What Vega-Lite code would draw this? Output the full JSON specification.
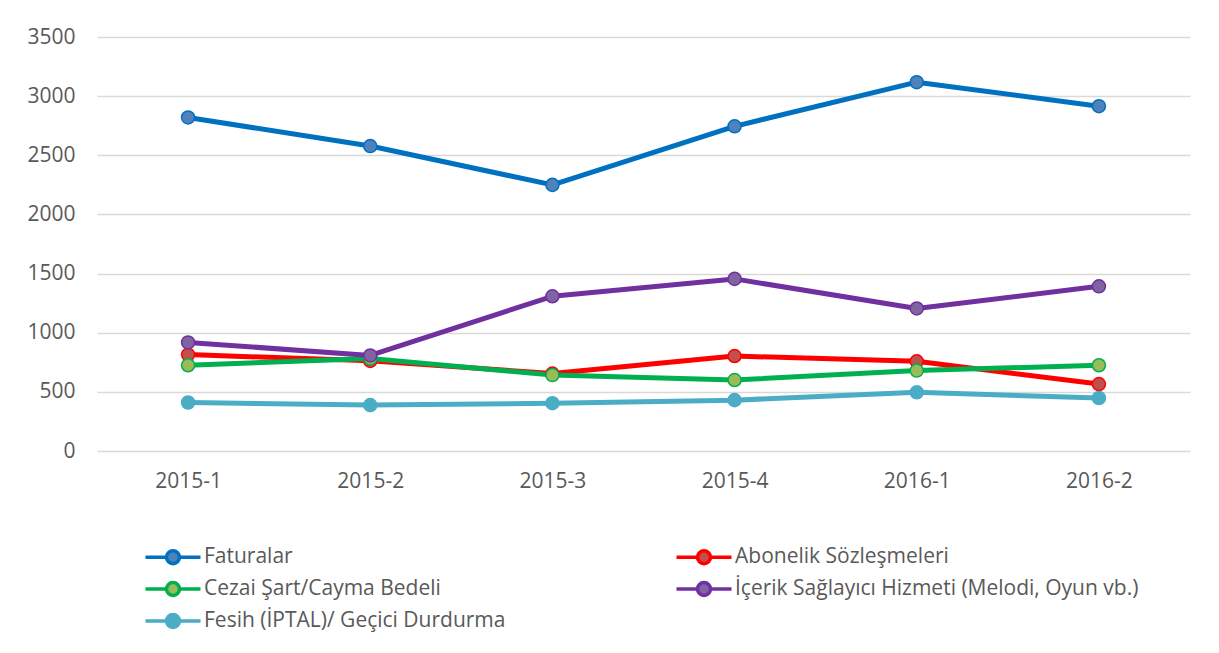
{
  "$schema": "https://vega.github.io/schema/vega-lite/v6.json",
  "width": 1093,
  "height": 414,
  "autosize": {"type": "none"},
  "padding": {"left": 97, "top": 37, "right": 29, "bottom": 202},
  "background": "white",
  "config": {"view": {"stroke": null}, "font": "Open Sans"},
  "data": {
    "values": [
      {"period": "2015-1", "series": "Faturalar", "value": 2820},
      {"period": "2015-2", "series": "Faturalar", "value": 2578},
      {"period": "2015-3", "series": "Faturalar", "value": 2250},
      {"period": "2015-4", "series": "Faturalar", "value": 2745},
      {"period": "2016-1", "series": "Faturalar", "value": 3118},
      {"period": "2016-2", "series": "Faturalar", "value": 2915},
      {"period": "2015-1", "series": "Abonelik Sözleşmeleri", "value": 815},
      {"period": "2015-2", "series": "Abonelik Sözleşmeleri", "value": 762},
      {"period": "2015-3", "series": "Abonelik Sözleşmeleri", "value": 655},
      {"period": "2015-4", "series": "Abonelik Sözleşmeleri", "value": 803},
      {"period": "2016-1", "series": "Abonelik Sözleşmeleri", "value": 758},
      {"period": "2016-2", "series": "Abonelik Sözleşmeleri", "value": 566},
      {"period": "2015-1", "series": "Cezai Şart/Cayma Bedeli", "value": 725},
      {"period": "2015-2", "series": "Cezai Şart/Cayma Bedeli", "value": 782},
      {"period": "2015-3", "series": "Cezai Şart/Cayma Bedeli", "value": 642},
      {"period": "2015-4", "series": "Cezai Şart/Cayma Bedeli", "value": 600},
      {"period": "2016-1", "series": "Cezai Şart/Cayma Bedeli", "value": 680},
      {"period": "2016-2", "series": "Cezai Şart/Cayma Bedeli", "value": 725},
      {"period": "2015-1", "series": "İçerik Sağlayıcı Hizmeti (Melodi, Oyun vb.)", "value": 918},
      {"period": "2015-2", "series": "İçerik Sağlayıcı Hizmeti (Melodi, Oyun vb.)", "value": 808},
      {"period": "2015-3", "series": "İçerik Sağlayıcı Hizmeti (Melodi, Oyun vb.)", "value": 1308},
      {"period": "2015-4", "series": "İçerik Sağlayıcı Hizmeti (Melodi, Oyun vb.)", "value": 1455},
      {"period": "2016-1", "series": "İçerik Sağlayıcı Hizmeti (Melodi, Oyun vb.)", "value": 1205},
      {"period": "2016-2", "series": "İçerik Sağlayıcı Hizmeti (Melodi, Oyun vb.)", "value": 1392},
      {"period": "2015-1", "series": "Fesih (İPTAL)/ Geçici Durdurma", "value": 410},
      {"period": "2015-2", "series": "Fesih (İPTAL)/ Geçici Durdurma", "value": 388},
      {"period": "2015-3", "series": "Fesih (İPTAL)/ Geçici Durdurma", "value": 404},
      {"period": "2015-4", "series": "Fesih (İPTAL)/ Geçici Durdurma", "value": 430},
      {"period": "2016-1", "series": "Fesih (İPTAL)/ Geçici Durdurma", "value": 496},
      {"period": "2016-2", "series": "Fesih (İPTAL)/ Geçici Durdurma", "value": 448}
    ]
  },
  "encoding": {
    "x": {
      "field": "period",
      "type": "ordinal",
      "scale": {"type": "point", "padding": 0.5},
      "axis": {
        "title": null,
        "labelAngle": 0,
        "labelFontSize": 21,
        "labelColor": "#595959",
        "labelPadding": 19,
        "ticks": false,
        "domain": false,
        "grid": false
      }
    },
    "y": {
      "field": "value",
      "type": "quantitative",
      "scale": {"domain": [0, 3500], "nice": false},
      "axis": {
        "title": null,
        "values": [0, 500, 1000, 1500, 2000, 2500, 3000, 3500],
        "format": "d",
        "labelFontSize": 21,
        "labelColor": "#595959",
        "labelPadding": 22,
        "ticks": false,
        "domain": false,
        "grid": true,
        "gridColor": "#D9D9D9",
        "gridWidth": 1.3
      }
    }
  },
  "layer": [
    {
      "mark": {"type": "line", "strokeWidth": 5, "strokeCap": "round", "strokeJoin": "round"},
      "encoding": {
        "stroke": {
          "field": "series",
          "type": "nominal",
          "scale": {
            "domain": ["Faturalar", "Cezai Şart/Cayma Bedeli", "Fesih (İPTAL)/ Geçici Durdurma", "Abonelik Sözleşmeleri", "İçerik Sağlayıcı Hizmeti (Melodi, Oyun vb.)"],
            "range": ["#0070C0", "#00B050", "#4BACC6", "#FF0000", "#7030A0"]
          },
          "legend": {
            "orient": "none",
            "legendX": 64,
            "legendY": 508,
            "columns": 2,
            "columnPadding": 163,
            "rowPadding": 4,
            "padding": 0,
            "title": null,
            "labelFontSize": 21,
            "labelColor": "#595959",
            "labelLimit": 600,
            "labelOffset": 19,
            "symbolType": "M-2.75,0H-0.75M0.75,0H2.75M0.65,0A0.65,0.65,0,1,1,-0.65,0A0.65,0.65,0,1,1,0.65,0Z",
            "symbolSize": 400,
            "symbolStrokeWidth": 3.5
          }
        }
      }
    },
    {
      "mark": {"type": "point", "shape": "circle", "filled": true, "size": 170, "strokeWidth": 1.5, "opacity": 1},
      "encoding": {
        "stroke": {"field": "series", "type": "nominal"},
        "fill": {
          "field": "series",
          "type": "nominal",
          "scale": {
            "domain": ["Faturalar", "Cezai Şart/Cayma Bedeli", "Fesih (İPTAL)/ Geçici Durdurma", "Abonelik Sözleşmeleri", "İçerik Sağlayıcı Hizmeti (Melodi, Oyun vb.)"],
            "range": ["#4F81BD", "#9BBB59", "#4BACC6", "#C0504D", "#8064A2"]
          },
          "legend": {
            "orient": "none",
            "legendX": 64,
            "legendY": 508,
            "columns": 2,
            "columnPadding": 163,
            "rowPadding": 4,
            "padding": 0,
            "title": null,
            "labelFontSize": 21,
            "labelColor": "#595959",
            "labelLimit": 600,
            "labelOffset": 19,
            "symbolType": "M-2.75,0H-0.75M0.75,0H2.75M0.65,0A0.65,0.65,0,1,1,-0.65,0A0.65,0.65,0,1,1,0.65,0Z",
            "symbolSize": 400,
            "symbolStrokeWidth": 3.5
          }
        }
      }
    }
  ]
}
